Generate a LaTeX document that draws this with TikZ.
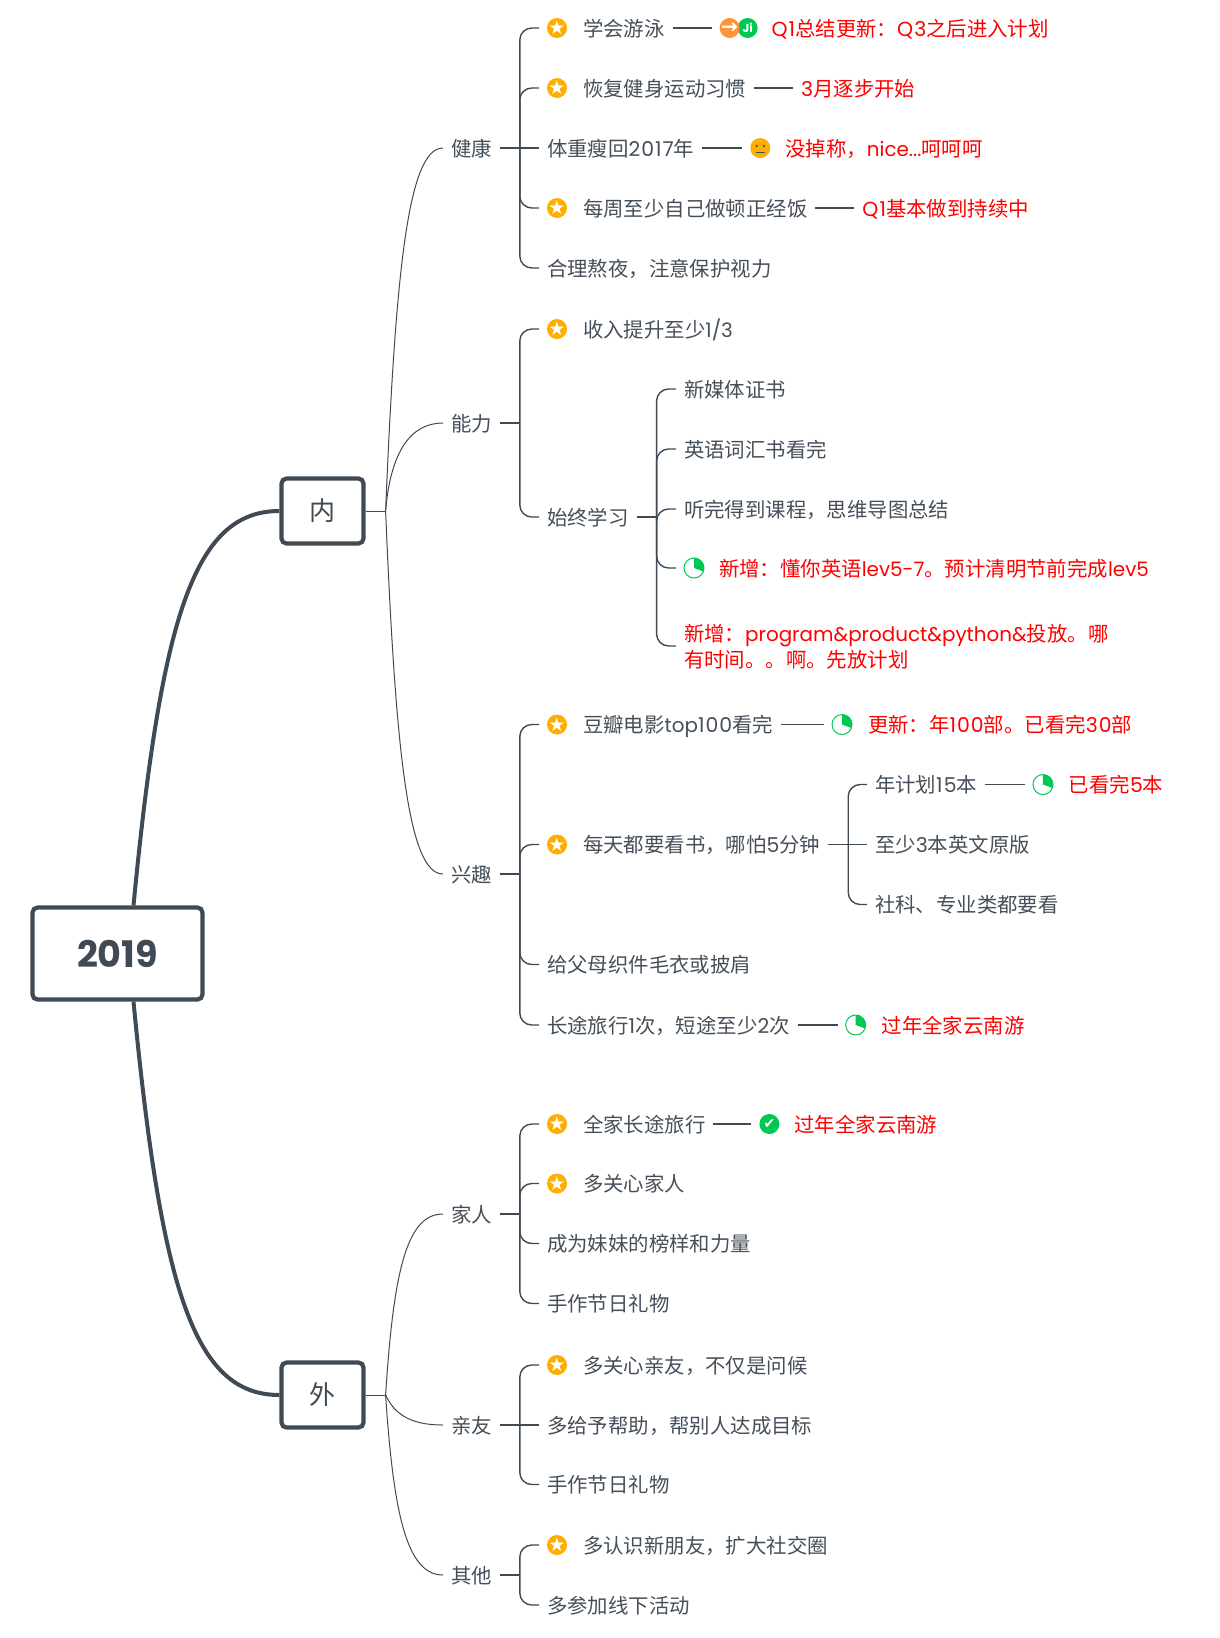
\documentclass[tikz,border=0pt]{standalone}
\usepackage{fontspec}
\setmainfont{Noto Sans CJK SC}
\newfontfamily\latinfont[Scale=0.975]{Poppins}
\newfontfamily\digitfont[LetterSpace=5]{Poppins}
\newfontfamily\symbolfont{DejaVu Sans}
\newcommand{\la}[1]{{\latinfont #1}}
\newcommand{\nm}[1]{{\digitfont #1}}
\usetikzlibrary{positioning}
\definecolor{slate}{HTML}{3F4A54}
\definecolor{inktext}{HTML}{454F59}
\definecolor{staryellow}{HTML}{FFAE00}
\definecolor{dotgreen}{HTML}{00C853}
\definecolor{gorange}{HTML}{FF9438}

\begin{document}
\begin{tikzpicture}[
  x=1pt, y=-1pt,
  rootbox/.style={draw=slate, line width=4.2pt, rounded corners=5pt, fill=white, text=slate, inner sep=0pt,
    minimum width=170pt, minimum height=92pt, font=\fontsize{37.5}{40}\selectfont\latinfont\bfseries},
  topicbox/.style={draw=slate, line width=4.2pt, rounded corners=5pt, fill=white, text=slate, inner sep=0pt,
    minimum width=82pt, minimum height=65pt, font=\fontsize{26}{30}\selectfont},
  item/.style={anchor=west, inner sep=0pt, outer xsep=8pt, outer ysep=0pt, text=inktext, align=left,
    text height=18.8pt, text depth=2.2pt, font=\fontsize{20.4}{26.6}\selectfont},
  note/.style={item, text=red},
  iconbase/.style={circle, inner sep=-4pt, outer sep=8pt, minimum size=20pt, anchor=west},
  staricon/.style={iconbase, fill=staryellow, text=white, font=\fontsize{19}{19}\selectfont\symbolfont},
  pieicon/.style={iconbase, draw=dotgreen, line width=1pt, minimum size=20pt, path picture={
    \fill[dotgreen] (path picture bounding box.center) -- ++(90:12pt) arc (90:-20:12pt) -- cycle;}},
  checkicon/.style={iconbase, fill=dotgreen, text=white, font=\fontsize{14}{14}\selectfont\symbolfont},
  goicon/.style={iconbase, fill=gorange, text=white, font=\fontsize{20}{20}\selectfont\symbolfont\bfseries},
  jiicon/.style={iconbase, fill=dotgreen, text=white, font=\fontsize{12}{12}\selectfont\latinfont\bfseries},
  smileicon/.style={iconbase, fill=staryellow, path picture={
    \fill[slate] ([shift={(-3.6pt,2pt)}]path picture bounding box.center) circle (1.3pt);
    \fill[slate] ([shift={(3.6pt,2pt)}]path picture bounding box.center) circle (1.3pt);
    \draw[slate, line width=1.3pt] ([shift={(-4.5pt,-4.5pt)}]path picture bounding box.center) -- ++(9pt,0);}},
  rootline/.style={draw=slate, line width=4pt},
  topicline/.style={draw=slate, line width=1pt},
  stem/.style={draw=slate, line width=1.6pt},
  branch/.style={draw=slate, line width=1.4pt, rounded corners=12pt},
  noteline/.style={draw=slate, line width=1.2pt}
]
\useasboundingbox (0,0) rectangle (1220,1638);

\node[rootbox] (root) at (117.5,953.5) {2019};
\node[topicbox] (inner) at (322.5,511) {内};
\node[topicbox] (outer) at (322.5,1395) {外};

\coordinate[right=20pt of inner] (innerhub);
\coordinate[right=20pt of outer] (outerhub);

\draw[rootline] ([xshift=16pt]root.north) .. controls +(28,-290) and +(-85,0) .. (inner.west);
\draw[rootline] ([xshift=16pt]root.south) .. controls +(28,290) and +(-85,0) .. (outer.west);
\draw[topicline] (inner) -- (innerhub);
\draw[topicline] (outer) -- (outerhub);

\node[item] (health) at (443,148) {健康};
\node[item] (skill) at (443,423) {能力};
\node[item] (hobby) at (443,874) {兴趣};
\node[item] (family) at (443,1214) {家人};
\node[item] (friend) at (443,1425) {亲友};
\node[item] (other) at (443,1575) {其他};

\draw[topicline] (innerhub) .. controls +(10,-240) and +(-35,0) .. (health.west);
\draw[topicline] (innerhub) .. controls +(5,-60) and +(-32,0) .. (skill.west);
\draw[topicline] (innerhub) .. controls +(10,240) and +(-35,0) .. (hobby.west);
\draw[topicline] (outerhub) .. controls +(8,-125) and +(-36,0) .. (family.west);
\draw[topicline] (outerhub) .. controls +(10,22) and +(-28,0) .. (friend.west);
\draw[topicline] (outerhub) .. controls +(8,120) and +(-36,0) .. (other.west);

\coordinate[right=20pt of health] (healthhub);
\coordinate[right=20pt of skill] (skillhub);
\coordinate[right=20pt of hobby] (hobbyhub);
\coordinate[right=20pt of family] (familyhub);
\coordinate[right=20pt of friend] (friendhub);
\coordinate[right=20pt of other] (otherhub);

\draw[stem] (health) -- (healthhub);
\draw[stem] (skill) -- (skillhub);
\draw[stem] (hobby) -- (hobbyhub);
\draw[stem] (family) -- (familyhub);
\draw[stem] (friend) -- (friendhub);
\draw[stem] (other) -- (otherhub);

\node[staricon] (swimstar) at (539,28) {★};
\node[item, right=0pt of swimstar] (swim) {学会游泳};
\node[jiicon, right=57pt of swim] (swimji) {Ji};
\node[goicon, right=39pt of swim] (swimgo) {→};
\node[note, right=-2pt of swimji] (swimnote) {\nm{Q1}总结更新：\nm{Q3}之后进入计划};
\draw[noteline] (swim) -- (swimgo);

\node[staricon] (fitstar) at (539,88) {★};
\node[item, right=0pt of fitstar] (fit) {恢复健身运动习惯};
\node[note, right=39pt of fit] (fitnote) {\nm{3}月逐步开始};
\draw[noteline] (fit) -- (fitnote);

\node[item] (weight) at (539,148) {体重瘦回\nm{2017}年};
\node[smileicon, right=40pt of weight] (weightface) {};
\node[note, right=-1pt of weightface] (weightnote) {没掉称，\la{nice...}呵呵呵};
\draw[noteline] (weight) -- (weightface);

\node[staricon] (cookstar) at (539,208) {★};
\node[item, right=0pt of cookstar] (cook) {每周至少自己做顿正经饭};
\node[note, right=39pt of cook] (cooknote) {\nm{Q1}基本做到持续中};
\draw[noteline] (cook) -- (cooknote);

\node[item] (sleep) at (539,268) {合理熬夜，注意保护视力};

\draw[branch] (healthhub) |- (swimstar);
\draw[branch] (healthhub) |- (fitstar);
\draw[branch] (healthhub) -- (weight);
\draw[branch] (healthhub) |- (cookstar);
\draw[branch] (healthhub) |- (sleep);

\node[staricon] (incomestar) at (539,329) {★};
\node[item, right=0pt of incomestar] (income) {收入提升至少\la{1/3}};
\node[item] (learn) at (539,517) {始终学习};
\coordinate[right=20pt of learn] (learnhub);

\draw[branch] (skillhub) |- (incomestar);
\draw[branch] (skillhub) |- (learn);
\draw[stem] (learn) -- (learnhub);

\node[item] (media) at (676,389) {新媒体证书};
\node[item] (vocab) at (676,449) {英语词汇书看完};
\node[item] (course) at (676,509) {听完得到课程，思维导图总结};
\node[pieicon] (lingopie) at (676,568) {};
\node[note, right=-1pt of lingopie] (lingo) {新增：懂你英语\la{lev5-7}。预计清明节前完成\la{lev5}};
\node[note, text height=45.4pt] (coding) at (676,646) {新增：\la{program\&product\&python\&}投放。哪\\有时间。。啊。先放计划};

\draw[branch] (learnhub) |- (media);
\draw[branch] (learnhub) |- (vocab);
\draw[branch] (learnhub) |- (course);
\draw[branch] (learnhub) |- (lingopie);
\draw[branch] (learnhub) |- (coding);

\node[staricon] (moviestar) at (539,724.5) {★};
\node[item, right=0pt of moviestar] (movie) {豆瓣电影\la{top}\nm{100}看完};
\node[pieicon, right=43pt of movie] (moviepie) {};
\node[note, right=0pt of moviepie] (movienote) {更新：年\nm{100}部。已看完\nm{30}部};
\draw[noteline] (movie) -- (moviepie);

\node[staricon] (readstar) at (539,844.5) {★};
\node[item, right=0pt of readstar] (read) {每天都要看书，哪怕\nm{5}分钟};
\coordinate[right=20pt of read] (readhub);
\draw[stem] (read) -- (readhub);

\node[item] (plan) at (867,784.5) {年计划\nm{15}本};
\node[pieicon, right=40pt of plan] (planpie) {};
\node[note, right=0pt of planpie] (plannote) {已看完\nm{5}本};
\draw[noteline] (plan) -- (planpie);
\node[item] (english) at (867,844.5) {至少\nm{3}本英文原版};
\node[item] (social) at (867,904.5) {社科、专业类都要看};

\draw[branch] (readhub) |- (plan);
\draw[branch] (readhub) -- (english);
\draw[branch] (readhub) |- (social);

\node[item] (knit) at (539,964.5) {给父母织件毛衣或披肩};
\node[item] (trip) at (539,1025) {长途旅行\nm{1}次，短途至少\nm{2}次};
\node[pieicon, right=40pt of trip] (trippie) {};
\node[note, right=0pt of trippie] (tripnote) {过年全家云南游};
\draw[noteline] (trip) -- (trippie);

\draw[branch] (hobbyhub) |- (moviestar);
\draw[branch] (hobbyhub) |- (readstar);
\draw[branch] (hobbyhub) |- (knit);
\draw[branch] (hobbyhub) |- (trip);

\node[staricon] (tourstar) at (539,1124) {★};
\node[item, right=0pt of tourstar] (tour) {全家长途旅行};
\node[checkicon, right=38pt of tour] (tourcheck) {✔};
\node[note, right=-1pt of tourcheck] (tournote) {过年全家云南游};
\draw[noteline] (tour) -- (tourcheck);

\node[staricon] (carestar) at (539,1183.5) {★};
\node[item, right=0pt of carestar] (care) {多关心家人};
\node[item] (sister) at (539,1243.5) {成为妹妹的榜样和力量};
\node[item] (giftone) at (539,1303.5) {手作节日礼物};

\draw[branch] (familyhub) |- (tourstar);
\draw[branch] (familyhub) |- (carestar);
\draw[branch] (familyhub) |- (sister);
\draw[branch] (familyhub) |- (giftone);

\node[staricon] (greetstar) at (539,1365) {★};
\node[item, right=0pt of greetstar] (greet) {多关心亲友，不仅是问候};
\node[item] (help) at (539,1425) {多给予帮助，帮别人达成目标};
\node[item] (gifttwo) at (539,1484.5) {手作节日礼物};

\draw[branch] (friendhub) |- (greetstar);
\draw[branch] (friendhub) -- (help);
\draw[branch] (friendhub) |- (gifttwo);

\node[staricon] (meetstar) at (539,1545) {★};
\node[item, right=0pt of meetstar] (meet) {多认识新朋友，扩大社交圈};
\node[item] (offline) at (539,1605) {多参加线下活动};

\draw[branch] (otherhub) |- (meetstar);
\draw[branch] (otherhub) |- (offline);

\end{tikzpicture}
\end{document}
